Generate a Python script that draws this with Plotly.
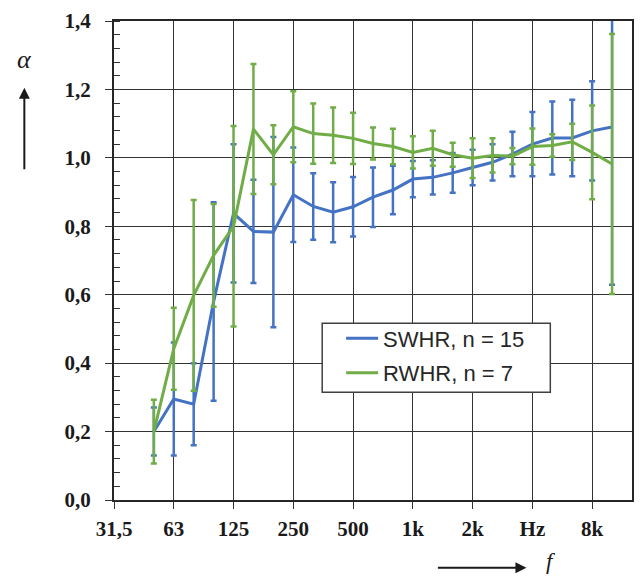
import plotly.graph_objects as go

# Third-octave band centre frequencies on the category axis
bands = ["31,5", "40", "50", "63", "80", "100", "125", "160", "200", "250",
         "315", "400", "500", "630", "800", "1k", "1,25k", "1,6k", "2k",
         "2,5k", "3,15k", "4k", "5k", "6,3k", "8k", "10k", "12,5k"]

# Measured bands (50 Hz ... 10 kHz)
freq = bands[2:26]

# SWHR: mean absorption coefficient and standard deviation
swhr_mean = [0.20, 0.295, 0.28, 0.58, 0.838, 0.785, 0.783, 0.892, 0.858, 0.841,
             0.857, 0.885, 0.906, 0.938, 0.943, 0.956, 0.972, 0.987, 1.011,
             1.040, 1.058, 1.058, 1.079, 1.090]
swhr_sd = [0.07, 0.165, 0.12, 0.29, 0.202, 0.151, 0.278, 0.138, 0.097, 0.088,
           0.087, 0.087, 0.071, 0.053, 0.050, 0.058, 0.052, 0.053, 0.065,
           0.094, 0.107, 0.112, 0.145, 0.461]

# RWHR: mean absorption coefficient and standard deviation
rwhr_mean = [0.20, 0.442, 0.598, 0.715, 0.80, 1.084, 1.009, 1.091, 1.071, 1.066,
             1.057, 1.042, 1.033, 1.016, 1.028, 1.009, 0.999, 1.007, 1.005,
             1.033, 1.036, 1.047, 1.016, 0.982]
rwhr_sd = [0.093, 0.12, 0.279, 0.15, 0.293, 0.19, 0.086, 0.104, 0.088, 0.081,
           0.075, 0.047, 0.052, 0.047, 0.051, 0.035, 0.058, 0.050, 0.024,
           0.053, 0.033, 0.053, 0.137, 0.38]

series_names = ["SWHR, n = 15", "RWHR, n = 7"]

x_tickvals = ["31,5", "63", "125", "250", "500", "1k", "2k", "4k", "8k"]
x_ticktext = ["31,5", "63", "125", "250", "500", "1k", "2k", "Hz", "8k"]
y_tickvals = [0.0, 0.2, 0.4, 0.6, 0.8, 1.0, 1.2, 1.4]
y_ticktext = ["0,0", "0,2", "0,4", "0,6", "0,8", "1,0", "1,2", "1,4"]

BLUE = "#4472C4"
GREEN = "#70AD47"
GRID = "#333333"
INK = "#1a1a1a"
TICKFONT = dict(family="Liberation Serif", size=21, color=INK, weight="bold")

# plot area in pixels: x 114..634, y 20..500
L, R, T, B = 114, 9, 20, 77
PW, PH = 643 - L - R, 577 - T - B


def px(x):
    return (x - L) / PW


def py(y):
    return (577 - B - y) / PH


fig = go.Figure()
for i, (name, mean, sd, color) in enumerate([
    (series_names[0], swhr_mean, swhr_sd, BLUE),
    (series_names[1], rwhr_mean, rwhr_sd, GREEN),
]):
    fig.add_trace(go.Scatter(
        x=freq, y=mean, name=name, mode="lines", legendgroup=f"g{i}",
        line=dict(color=color, width=3),
        error_y=dict(type="data", array=sd, visible=True,
                     color=color, thickness=2.5, width=3),
    ))

fig.update_xaxes(
    type="category", categoryorder="array", categoryarray=bands,
    range=[0, 26],
    tickmode="array", tickvals=x_tickvals, ticktext=x_ticktext,
    tickfont=TICKFONT,
    ticks="outside", ticklen=7, tickwidth=1.2, tickcolor=GRID,
    ticklabelstandoff=2,
    showgrid=True, gridcolor=GRID, gridwidth=1,
    showline=True, linecolor="#262626", linewidth=2, mirror=True,
    zeroline=False,
)
fig.update_yaxes(
    range=[0, 1.4],
    tickmode="array", tickvals=y_tickvals, ticktext=y_ticktext,
    tickfont=TICKFONT,
    ticks="outside", ticklen=7, tickwidth=1.2, tickcolor=GRID,
    ticklabelstandoff=10,
    minor=dict(dtick=0.04, tick0=0, ticks="inside", ticklen=6,
               tickcolor=GRID, tickwidth=1, showgrid=False),
    showgrid=True, gridcolor=GRID, gridwidth=1,
    showline=True, linecolor="#262626", linewidth=2, mirror=True,
    zeroline=False,
)

# Axis quantity symbols with direction arrows
fig.add_annotation(xref="paper", yref="paper", x=px(24), y=py(87),
                   ax=0, ay=83, text="", showarrow=True,
                   arrowhead=2, arrowsize=1.1, arrowwidth=2, arrowcolor=INK)
fig.add_annotation(xref="paper", yref="paper", x=px(24), y=py(59),
                   xanchor="center", yanchor="middle",
                   text="<i>α</i>", showarrow=False,
                   font=dict(family="Liberation Serif", size=26, color=INK))
fig.add_annotation(xref="paper", yref="paper", x=px(528), y=py(568),
                   ax=-90, ay=0, text="", showarrow=True,
                   arrowhead=2, arrowsize=1.1, arrowwidth=2, arrowcolor=INK)
fig.add_annotation(xref="paper", yref="paper", x=px(553), y=py(562),
                   xanchor="center", yanchor="middle",
                   text="<i>f</i>", showarrow=False,
                   font=dict(family="Liberation Serif", size=23, color=INK))

# Legend frame
fig.add_shape(type="rect", xref="paper", yref="paper",
              x0=px(323), x1=px(552), y0=py(392), y1=py(323),
              fillcolor="white", line=dict(color="#404040", width=1.5),
              layer="above")

fig.update_layout(
    width=643, height=577,
    margin=dict(l=L, r=R, t=T, b=B),
    paper_bgcolor="white", plot_bgcolor="white",
    showlegend=True,
    legend=dict(
        x=px(342), y=py(317), xanchor="left", yanchor="top",
        bgcolor="rgba(0,0,0,0)", borderwidth=0,
        font=dict(family="Liberation Sans", size=22, color="#262626"),
        itemwidth=32, traceorder="grouped", tracegroupgap=3,
    ),
)

fig.write_html("out.html")
